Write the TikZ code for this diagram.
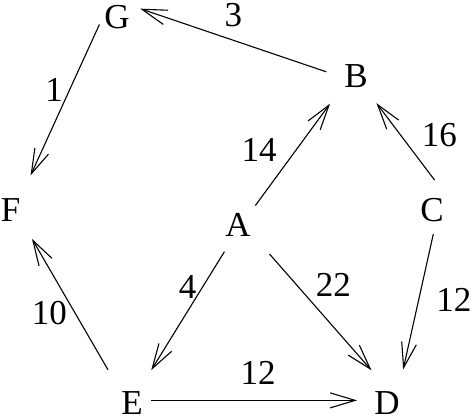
\documentclass[tikz,border=0pt]{standalone}
\usepackage{fontspec}
\setmainfont{Liberation Serif}
\usetikzlibrary{arrows.meta}
\begin{document}
\begin{tikzpicture}[x=1pt,y=-1pt,
  line width=1.1pt,>={Straight Barb[length=25pt,width=15pt]},
  city/.style={circle,inner sep=0pt,outer sep=0pt,minimum size=60pt,font=\fontsize{35}{40}\selectfont},
  wt/.style={inner sep=0pt,font=\fontsize{35}{40}\selectfont}]

  \useasboundingbox (0,0) rectangle (472,417);

  \node[city] (G) at (117,17) {G};
  \node[city] (B) at (356,76) {B};
  \node[city] (F) at (10.5,210) {F};
  \node[city] (A) at (238,225) {A};
  \node[city] (C) at (432,210) {C};
  \node[city] (E) at (132,403) {E};
  \node[city] (D) at (387,403) {D};

  \path[->]
   (B.172) edge[shorten >=-6.5pt] node[wt,xshift=-3pt,yshift=26pt]{3} (G.12)
   (G.220) edge[shorten <=-13pt,shorten >=10pt] node[wt,xshift=-6pt,yshift=20pt]{1} (F.58)
   (A.49) edge[shorten <=-4pt,shorten >=8pt] node[wt,xshift=-37pt]{14} (B.225)
   (C.85) edge[shorten >=4pt] node[wt,xshift=35pt,yshift=5pt]{16} (B.-53)
   (A.243) edge[shorten >=8pt] node[wt,xshift=2pt,yshift=27pt]{4} (E.60)
   (A.-40) edge[shorten <=13pt,shorten >=6.5pt] node[wt,xshift=15pt,yshift=25pt]{22} (D.112)
   (C.-90) edge[shorten <=-6pt,shorten >=7.5pt] node[wt,xshift=37pt,yshift=8pt]{12} (D.61)
   (E.128) edge[shorten <=11pt,shorten >=6pt] node[wt,xshift=-22pt,yshift=-6.5pt]{10} (F.-52)
   (E.5) edge[shorten <=-11pt] node[wt,xshift=-1.5pt,yshift=27pt]{12} (D.175);
\end{tikzpicture}
\end{document}
